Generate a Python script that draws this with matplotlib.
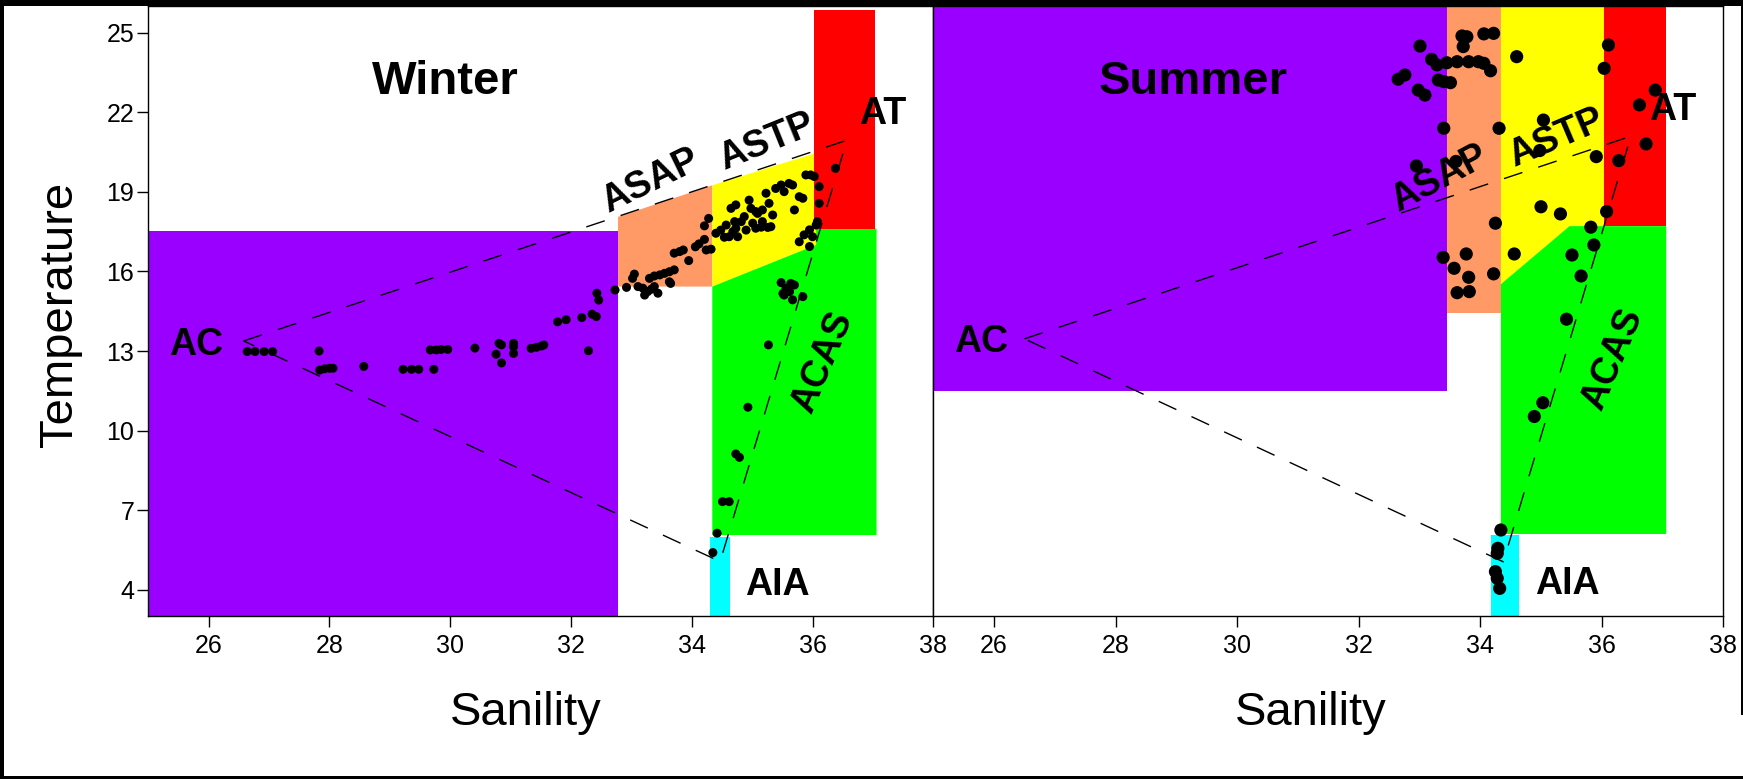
import matplotlib
matplotlib.use("Agg")
import matplotlib.pyplot as plt
from matplotlib.patches import Polygon, Rectangle

plt.rcParams['font.family'] = ['Liberation Sans', 'DejaVu Sans']

# ===================== DATA =====================
# winter T-S points
winter_sal = [26.64, 26.77, 26.92, 27.06, 27.83, 27.84, 27.92, 28.00, 28.06, 28.57,
              29.22, 29.36, 29.48, 29.73, 29.67, 29.77, 29.85, 29.96, 30.41,
              30.81, 30.85, 30.76, 30.85, 31.05, 31.05, 31.05, 31.34, 31.43, 31.51, 31.55,
              32.29, 31.78, 31.92, 32.18, 32.35, 32.42, 32.43, 32.46, 32.73,
              32.92, 33.02, 33.05, 33.11, 33.19, 33.22, 33.27, 33.33, 33.38, 33.44,
              33.30, 33.38, 33.47, 33.55, 33.63, 33.71, 33.63, 33.65,
              33.71, 33.80, 33.86, 33.95, 34.06, 34.12, 34.21, 34.21, 34.28, 34.24, 34.32,
              34.40, 34.48, 34.54, 34.57, 34.62, 34.68, 34.73, 34.76, 34.82, 34.87, 34.90,
              34.95, 34.98, 35.01, 35.06, 35.09, 35.15, 35.17, 35.23, 35.28, 35.31, 35.34,
              35.39, 35.48, 35.53, 35.61, 35.67, 35.70, 35.78, 35.84, 35.89, 35.97, 36.03,
              36.11, 36.11, 34.73, 34.65, 34.71, 35.06, 35.17, 35.26,
              35.78, 35.86, 35.95, 36.00, 36.06, 36.08, 35.95, 36.38,
              35.48, 35.56, 35.64, 35.70, 35.53, 35.62, 35.67, 35.84, 35.51,
              35.27, 34.93, 34.73, 34.79, 34.51, 34.62, 34.42, 34.35]
winter_temp = [12.98, 12.98, 12.98, 12.98, 13.00, 12.28, 12.33, 12.35, 12.35, 12.42,
               12.31, 12.31, 12.31, 12.31, 13.04, 13.04, 13.06, 13.06, 13.11,
               13.29, 13.23, 12.88, 12.55, 13.29, 13.16, 12.91, 13.10, 13.14, 13.19, 13.23,
               13.01, 14.10, 14.18, 14.26, 14.39, 14.30, 15.18, 14.92, 15.30,
               15.40, 15.74, 15.90, 15.43, 15.37, 15.11, 15.24, 15.33, 15.43, 15.18,
               15.74, 15.83, 15.87, 15.93, 15.99, 16.06, 15.61, 15.55,
               16.69, 16.75, 16.81, 16.41, 16.93, 17.04, 17.21, 17.72, 18.00, 16.81, 16.84,
               17.44, 17.56, 17.29, 17.75, 17.31, 17.50, 17.63, 17.31, 17.88, 18.07, 17.56,
               18.69, 18.38, 17.82, 17.63, 18.19, 17.67, 18.32, 18.95, 18.57, 17.69, 18.13,
               19.13, 19.26, 19.01, 19.32, 19.26, 18.32, 18.82, 18.76, 19.64, 19.64, 19.58,
               19.20, 18.57, 18.51, 18.38, 17.88, 18.26, 17.88, 17.66,
               17.12, 17.38, 17.57, 17.31, 17.75, 17.88, 16.94, 19.89,
               15.58, 15.36, 15.55, 15.49, 15.11, 15.24, 14.93, 15.05, 15.17,
               13.23, 10.88, 9.12, 8.99, 7.32, 7.32, 6.13, 5.40]

# summer T-S points
summer_sal = [33.01, 32.65, 32.76, 32.98, 33.09, 33.20, 33.29, 33.45, 33.62, 33.81, 33.97, 34.06,
              33.31, 33.40, 33.51, 34.17, 33.70, 33.78, 33.72, 34.06, 34.22,
              34.60, 36.11, 36.04, 36.88, 36.62, 36.73, 36.28, 35.91,
              35.04, 34.98, 34.31, 33.40, 32.95, 33.60,
              34.25, 35.00, 35.32, 36.08, 35.82, 35.87, 35.51, 35.66,
              34.56, 34.22, 33.39, 33.77, 33.57, 33.81, 33.62, 33.82,
              35.42, 35.03, 34.89, 34.34, 34.29, 34.28, 34.25, 34.28, 34.32]
summer_temp = [24.50, 23.25, 23.41, 22.84, 22.65, 24.00, 23.79, 23.87, 23.91, 23.91, 23.91, 23.85,
               23.22, 23.16, 23.12, 23.57, 24.88, 24.85, 24.48, 24.96, 24.98,
               24.10, 24.54, 23.66, 22.84, 22.28, 20.81, 20.18, 20.33,
               21.71, 20.56, 21.40, 21.40, 19.98, 20.15,
               17.82, 18.44, 18.17, 18.26, 17.67, 17.00, 16.62, 15.83,
               16.66, 15.91, 16.53, 16.66, 16.12, 15.78, 15.20, 15.24,
               14.20, 11.05, 10.53, 6.25, 5.56, 5.37, 4.68, 4.43, 4.05]

# water mass boxes (color, salinity vertices, temperature vertices)
winter_boxes = [
    ('#9900FF', [25.0, 32.78, 32.78, 25.0], [2.9, 2.9, 17.53, 17.53]),
    ('#FF9966', [32.78, 34.34, 34.34, 32.78], [15.43, 15.43, 19.25, 18.06]),
    ('#FFFF00', [34.34, 36.06, 36.06, 34.34], [15.43, 17.0, 20.47, 19.25]),
    ('#00FF00', [34.34, 37.06, 37.06, 36.06, 36.06, 34.34], [6.06, 6.06, 17.62, 17.62, 17.0, 15.43]),
    ('#FF0000', [36.03, 37.04, 37.04, 36.03], [17.62, 17.62, 25.86, 25.86]),
    ('#00FFFF', [34.31, 34.63, 34.63, 34.31], [2.9, 2.9, 6.0, 6.0]),
]
summer_boxes = [
    ('#9900FF', [25.0, 33.46, 33.46, 25.0], [11.49, 11.49, 26.0, 26.0]),
    ('#FF9966', [33.46, 34.34, 34.34, 33.46], [14.43, 14.43, 26.0, 26.0]),
    ('#FFFF00', [34.34, 35.47, 36.05, 36.05, 34.34], [15.52, 17.71, 17.71, 26.0, 26.0]),
    ('#00FF00', [34.34, 37.06, 37.06, 35.47, 34.34], [6.1, 6.1, 17.71, 17.71, 15.52]),
    ('#FF0000', [36.04, 37.06, 37.06, 36.04], [17.71, 17.71, 26.0, 26.0]),
    ('#00FFFF', [34.18, 34.64, 34.64, 34.18], [2.9, 2.9, 6.06, 6.06]),
]

# mixing triangle AC -> AT -> AIA -> AC
winter_tri_x = [26.58, 36.57, 34.47, 26.58]
winter_tri_y = [13.38, 20.95, 5.06, 13.38]
summer_tri_x = [26.50, 36.48, 34.38, 26.50]
summer_tri_y = [13.46, 21.10, 5.05, 13.46]

# labels (text, x, y, rotation)
winter_title = ('Winter', 29.92, 22.68)
summer_title = ('Summer', 29.27, 22.71)
winter_flat = [('AC', 25.80, 12.84), ('AT', 37.16, 21.55), ('AIA', 35.41, 3.81)]
summer_flat = [('AC', 25.78, 12.97), ('AT', 37.16, 21.70), ('AIA', 35.43, 3.85)]
winter_rot = [('ASAP', 33.31, 19.40, 26), ('ASTP', 35.24, 20.87, 22), ('ACAS', 36.17, 12.56, 67)]
summer_rot = [('ASAP', 33.32, 19.49, 28), ('ASTP', 35.25, 21.01, 23), ('ACAS', 36.18, 12.68, 67)]

xticks = [26, 28, 30, 32, 34, 36, 38]
yticks = [4, 7, 10, 13, 16, 19, 22, 25]


# ===================== PLOT =====================
fig = plt.figure(figsize=(17.43, 7.79), dpi=100)

ax1 = fig.add_axes([0.08503, 0.20899, 0.45043, 0.78293])
ax2 = fig.add_axes([0.53546, 0.20899, 0.45324, 0.78293])


def draw_panel(ax, boxes, sal, temp, tri_x, tri_y, title, flat, rot, msize):
    for color, xs, ys in boxes:
        ax.add_patch(Polygon(list(zip(xs, ys)), closed=True, facecolor=color,
                             edgecolor='none', zorder=1))
    ax.plot(tri_x, tri_y, color='black', lw=1, linestyle=(0, (14, 12)), zorder=2)
    ax.scatter(sal, temp, s=msize, color='black', edgecolors='none', zorder=3)

    ax.text(title[1], title[2], title[0], fontsize=34, fontweight='bold',
            ha='center', va='baseline', zorder=4)
    for txt, x, y in flat:
        ax.text(x, y, txt, fontsize=27, fontweight='bold', ha='center', va='baseline', zorder=4)
    for txt, x, y, r in rot:
        ax.text(x, y, txt, fontsize=27, fontweight='bold', ha='center', va='center',
                rotation=r, rotation_mode='anchor', zorder=4)

    ax.set_xlim(25, 38)
    ax.set_ylim(3, 26)
    ax.set_xticks(xticks)
    ax.tick_params(axis='x', direction='out', length=8, width=1, labelsize=18, pad=5)
    for sp in ax.spines.values():
        sp.set_linewidth(1)


draw_panel(ax1, winter_boxes, winter_sal, winter_temp, winter_tri_x, winter_tri_y,
           winter_title, winter_flat, winter_rot, 42)
draw_panel(ax2, summer_boxes, summer_sal, summer_temp, summer_tri_x, summer_tri_y,
           summer_title, summer_flat, summer_rot, 90)

ax1.set_yticks(yticks)
ax1.tick_params(axis='y', direction='out', length=8, width=1, labelsize=18, pad=2)
ax2.set_yticks([])

ax1.set_ylabel('Temperature', fontsize=34, ha='center', va='center')
ax1.yaxis.set_label_coords(-0.112, 0.494)
ax1.set_xlabel('Sanility', fontsize=34, va='center')
ax1.xaxis.set_label_coords(0.481, -0.158)
ax2.set_xlabel('Sanility', fontsize=34, va='center')
ax2.xaxis.set_label_coords(0.478, -0.158)

# black frame round the figure
W, H = 1743, 779
fig.add_artist(Rectangle((0, 1 - 6 / H), 1, 6 / H, transform=fig.transFigure, color='black', lw=0))
fig.add_artist(Rectangle((0, 0), 4 / W, 1, transform=fig.transFigure, color='black', lw=0))
fig.add_artist(Rectangle((0, 0), 1, 3 / H, transform=fig.transFigure, color='black', lw=0))
fig.add_artist(Rectangle((1 - 2 / W, 1 - 715 / H), 2 / W, 715 / H, transform=fig.transFigure,
                         color='black', lw=0))

fig.savefig('out.png', dpi=100)
